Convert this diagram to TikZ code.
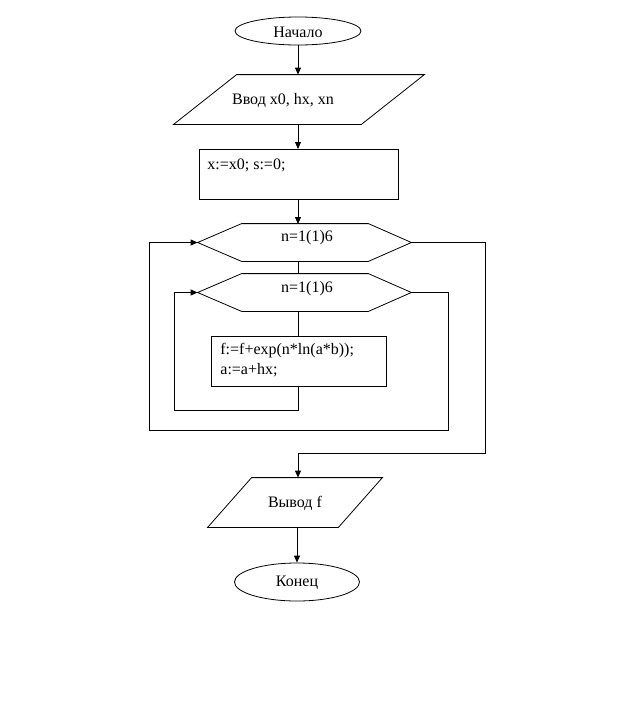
\documentclass[tikz,border=0pt]{standalone}
\usepackage{fontspec}
\setmainfont{Liberation Serif}
\usetikzlibrary{arrows.meta,calc,shapes.geometric}
\begin{document}
\begin{tikzpicture}[x=1pt,y=-1pt,
  line width=0.8pt,
  arr/.style={-{Triangle[length=7pt,width=6pt]}},
  box/.style={draw,rectangle,inner sep=0pt},
  frame/.style={rectangle,inner sep=0pt},
  oval/.style={draw,ellipse,inner sep=0pt},
  txt/.style={inner sep=0pt,font=\fontsize{16}{20}\selectfont},
]
\useasboundingbox (0,0) rectangle (634,721);
% start
\node[oval,minimum width=126pt,minimum height=28pt] (start) at (298,31) {};
\node[txt] (tstart) at (298,32) {Начало};
% input parallelogram
\node[frame,minimum width=250pt,minimum height=49pt] (in) at (299,99.5) {};
\draw ($(in.north west)+(63,0)$) -- (in.north east) -- ($(in.south east)-(63,0)$) -- (in.south west) -- cycle;
\node[txt] (tin) at (283,100) {Ввод x0, hx, xn};
% init box
\node[box,minimum width=199pt,minimum height=50pt] (init) at (298.5,174) {};
\node[txt,anchor=west] (tinit) at (207,165) {x:=x0; s:=0;};
% outer loop hexagon
\node[frame,minimum width=213pt,minimum height=37pt] (outer) at (304.5,242.5) {};
\draw (outer.west) -- ($(outer.north west)+(44,0)$) -- ($(outer.north east)-(43,0)$) -- (outer.east) -- ($(outer.south east)-(43,0)$) -- ($(outer.south west)+(44,0)$) -- cycle;
\node[txt] (touter) at (307,238) {n=1(1)6};
% inner loop hexagon
\node[frame,minimum width=213pt,minimum height=37pt] (inner) at (304.5,292.5) {};
\draw (inner.west) -- ($(inner.north west)+(44,0)$) -- ($(inner.north east)-(43,0)$) -- (inner.east) -- ($(inner.south east)-(43,0)$) -- ($(inner.south west)+(44,0)$) -- cycle;
\node[txt] (tinner) at (307,289) {n=1(1)6};
% body box
\node[box,minimum width=175pt,minimum height=50pt] (body) at (298.5,361) {};
\node[txt,anchor=west,align=left] (tbody) at (220,360.5) {f:=f+exp(n*ln(a*b));\\a:=a+hx;};
% output parallelogram
\node[frame,minimum width=174pt,minimum height=49pt] (out) at (295,502.5) {};
\draw ($(out.north west)+(44,0)$) -- (out.north east) -- ($(out.south east)-(44,0)$) -- (out.south west) -- cycle;
\node[txt] (tout) at (295,503) {Вывод f};
% end
\node[oval,minimum width=125pt,minimum height=38pt] (end) at (297,582) {};
\node[txt] (tend) at (297,583) {Конец};
% coordinates for loop paths
\coordinate (bodyturn) at (298,410);
\coordinate (innerleft) at (174,410);
\coordinate (innerright) at (448,430);
\coordinate (outerleft) at (149,430);
\coordinate (outerright) at (485,453);
\coordinate (downcol) at (298,453);
% connectors
\draw[arr] (start.south) -- (start.south |- in.north);
\draw[arr] (298,124) -- (298,149);
\draw[arr] (298,199) -- (298,224);
\draw (298,261) -- (298,274);
\draw (298,311) -- (298,336);
\draw[arr] (body.south -| bodyturn) -- (bodyturn) -- (innerleft) -- (innerleft |- inner.west) -- (inner.west);
\draw[arr] (inner.east) -- (inner.east -| innerright) -- (innerright) -- (outerleft) -- (outerleft |- outer.west) -- (outer.west);
\draw[arr] (outer.east) -- (outer.east -| outerright) -- (outerright) -- (downcol) -- (downcol |- out.north);
\draw[arr] (297,527) -- (end.north);
\end{tikzpicture}
\end{document}
